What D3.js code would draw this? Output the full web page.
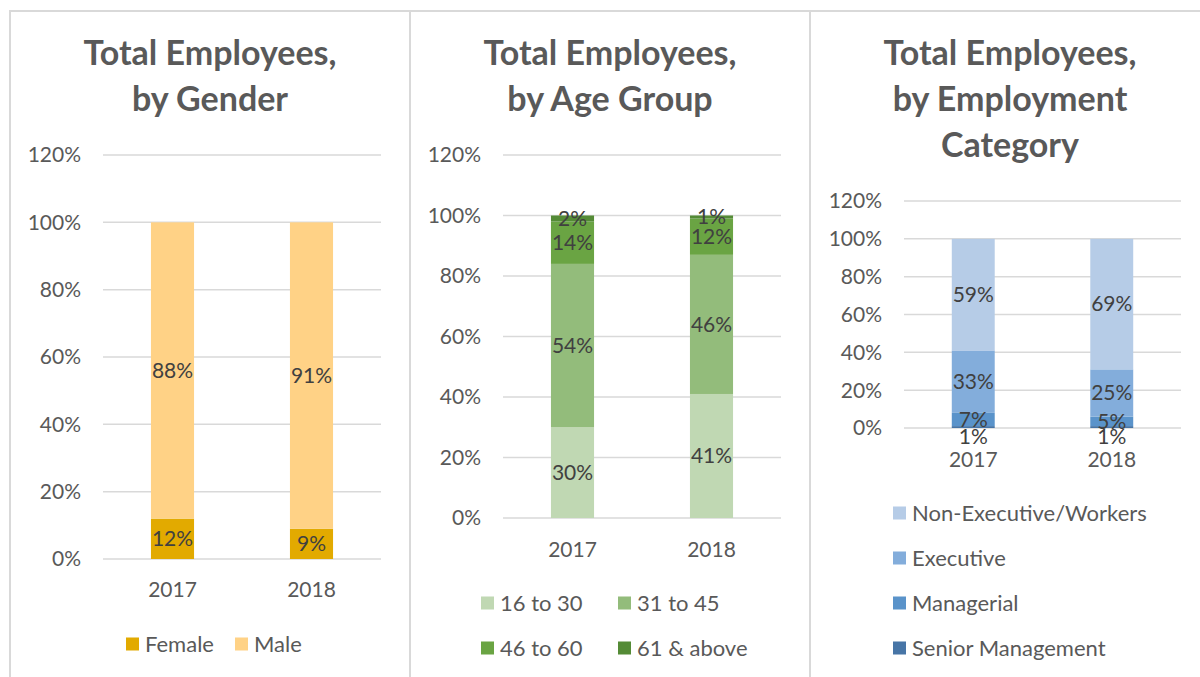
<!DOCTYPE html>
<html>
<head>
<meta charset="utf-8">
<script src="https://cdn.jsdelivr.net/npm/d3@7"></script>
<style>
  body { margin: 0; background: #ffffff; }
  svg { display: block; font-family: Lato, "Open Sans", sans-serif; }
</style>
</head>
<body>
<div id="chart-area"></div>
<script>
// ---- data ----
var years = ["2017", "2018"];
var yTicks = [0, 20, 40, 60, 80, 100, 120];

var genderSeries = ["Female", "Male"];
var genderValues = [[12, 9], [88, 91]];

var ageSeries = ["16 to 30", "31 to 45", "46 to 60", "61 & above"];
var ageValues = [[30, 41], [54, 46], [14, 12], [2, 1]];

var categorySeries = ["Senior Management", "Managerial", "Executive", "Non-Executive/Workers"];
var categoryValues = [[1, 1], [7, 5], [33, 25], [59, 69]];

var width = 1200, height = 677;

var svg = d3.select("#chart-area").append("svg")
    .attr("width", width)
    .attr("height", height);

// panel frames
var frame = svg.append("g")
    .attr("stroke", "#d9d9d9")
    .attr("stroke-width", 2);
frame.append("line").attr("x1", 10).attr("x2", width).attr("y1", 11).attr("y2", 11);
[10, 410, 810].forEach(function(x) {
    frame.append("line").attr("x1", x).attr("x2", x).attr("y1", 10).attr("y2", height);
});

// one stacked column chart per panel
function drawPanel(p) {
    var g = svg.append("g");

    // title
    var title = g.append("text")
        .attr("text-anchor", "middle")
        .attr("font-size", "34px")
        .attr("font-weight", "bold")
        .attr("fill", "#595959");
    p.title.forEach(function(line, i) {
        title.append("tspan")
            .attr("x", p.cx)
            .attr("y", 65 + i * 46)
            .text(line);
    });

    var x = d3.scaleBand()
        .domain(years)
        .range([p.left, p.right])
        .paddingInner(0.69)
        .paddingOuter(0.345);

    var y = d3.scaleLinear()
        .domain([0, 120])
        .range([p.bottom, p.top]);

    // gridlines + y tick labels
    g.append("g").selectAll("line")
        .data(yTicks).enter()
        .append("line")
            .attr("x1", p.left)
            .attr("x2", p.right)
            .attr("y1", function(d) { return y(d); })
            .attr("y2", function(d) { return y(d); })
            .attr("stroke", "#d9d9d9")
            .attr("stroke-width", 1.5);

    g.append("g").selectAll("text")
        .data(yTicks).enter()
        .append("text")
            .attr("x", p.left - 22)
            .attr("y", function(d) { return y(d); })
            .attr("dy", "0.35em")
            .attr("text-anchor", "end")
            .attr("font-size", "21px")
            .attr("fill", "#595959")
            .text(function(d) { return d + "%"; });

    // build rows for the stack
    var rows = years.map(function(yr, j) {
        var row = { year: yr };
        p.series.forEach(function(s, i) { row[s] = p.values[i][j]; });
        return row;
    });
    var stacked = d3.stack().keys(p.series)(rows);

    var layers = g.append("g").selectAll("g")
        .data(stacked).enter()
        .append("g")
            .attr("fill", function(d, i) { return p.colors[i]; });

    layers.selectAll("rect")
        .data(function(d) { return d; }).enter()
        .append("rect")
            .attr("x", function(d) { return x(d.data.year); })
            .attr("y", function(d) { return y(d[1]); })
            .attr("width", x.bandwidth())
            .attr("height", function(d) { return y(d[0]) - y(d[1]); });

    // data labels, centred in each segment
    stacked.forEach(function(layer) {
        var nudge = (p.labelNudge && p.labelNudge[layer.key]) || 0;
        g.append("g").selectAll("text")
            .data(layer).enter()
            .append("text")
                .attr("x", function(d) { return x(d.data.year) + x.bandwidth() / 2; })
                .attr("y", function(d) { return y((d[0] + d[1]) / 2) + nudge; })
                .attr("dy", "0.35em")
                .attr("text-anchor", "middle")
                .attr("font-size", "21px")
                .attr("fill", "#404040")
                .text(function(d) { return (d[1] - d[0]) + "%"; });
    });

    // x category labels
    g.append("g").selectAll("text")
        .data(years).enter()
        .append("text")
            .attr("x", function(d) { return x(d) + x.bandwidth() / 2; })
            .attr("y", p.xLabelY)
            .attr("dy", "0.35em")
            .attr("text-anchor", "middle")
            .attr("font-size", "21px")
            .attr("fill", "#595959")
            .text(function(d) { return d; });

    // legend
    var leg = g.append("g").selectAll("g")
        .data(p.series).enter()
        .append("g")
            .attr("transform", function(d, i) {
                var pos = p.legendPos[i];
                return "translate(" + pos[0] + " " + pos[1] + ")";
            });
    leg.append("rect")
        .attr("x", 0)
        .attr("y", -6.5)
        .attr("width", 13)
        .attr("height", 13)
        .attr("fill", function(d, i) { return p.colors[i]; });
    leg.append("text")
        .attr("x", 19)
        .attr("dy", "0.35em")
        .attr("font-size", "22px")
        .attr("fill", "#595959")
        .text(function(d) { return d; });
}

drawPanel({
    title: ["Total Employees,", "by Gender"],
    cx: 210,
    left: 103, right: 381, top: 155, bottom: 559,
    series: genderSeries,
    values: genderValues,
    colors: ["#e2aa00", "#ffd286"],
    xLabelY: 590,
    legendPos: [[126, 644], [235, 644]]
});

drawPanel({
    title: ["Total Employees,", "by Age Group"],
    cx: 610,
    left: 503, right: 781, top: 155, bottom: 518,
    series: ageSeries,
    values: ageValues,
    colors: ["#c0d8b3", "#93bc7b", "#6aa443", "#548b36"],
    xLabelY: 550,
    legendPos: [[481, 603], [618, 603], [481, 648], [618, 648]]
});

drawPanel({
    title: ["Total Employees,", "by Employment", "Category"],
    cx: 1010,
    left: 904, right: 1181, top: 201, bottom: 428,
    series: categorySeries,
    values: categoryValues,
    colors: ["#4775a6", "#5a93ca", "#83addb", "#b6cce7"],
    xLabelY: 460,
    labelNudge: { "Senior Management": 10 },
    legendPos: [[893, 648], [893, 603], [893, 558], [893, 513]]
});
</script>
</body>
</html>
